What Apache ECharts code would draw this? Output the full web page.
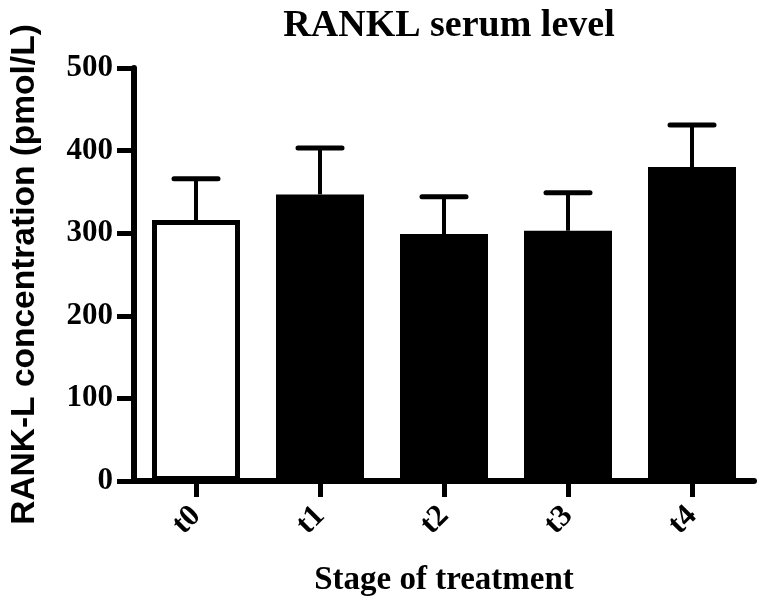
<!DOCTYPE html>
<html>
<head>
<meta charset="utf-8">
<script src="https://cdn.jsdelivr.net/npm/echarts@6/dist/echarts.min.js"></script>
<style>
html,body{margin:0;padding:0;background:#fff;}
#chart{width:760px;height:602px;}
</style>
</head>
<body>
<div id="chart"></div>
<script>
var categories = ['t0', 't1', 't2', 't3', 't4'];
var means = [316, 347, 299, 303, 380];
var errors = [50, 56, 45, 46, 51];
var barFills = ['#ffffff', '#000000', '#000000', '#000000', '#000000'];
var yMin = 0, yMax = 500, yInterval = 100;

var serif = '"Liberation Serif", "Times New Roman", serif';
var sans = '"Liberation Sans", Arial, sans-serif';

var chart = echarts.init(document.getElementById('chart'), null, {renderer: 'canvas'});

var barData = means.map(function (v, i) {
  return {value: v, itemStyle: {color: barFills[i]}};
});
var errData = means.map(function (v, i) { return [i, v, v + errors[i]]; });

chart.setOption({
  animation: false,
  backgroundColor: '#ffffff',
  title: {
    text: 'RANKL serum level',
    left: 444, textAlign: 'center',
    top: 2,
    textStyle: {fontFamily: serif, fontWeight: 'bold', fontSize: 38, color: '#000'}
  },
  grid: {left: 134, right: 6, top: 68, bottom: 120, containLabel: false},
  xAxis: {
    type: 'category',
    data: categories,
    name: 'Stage of treatment',
    nameLocation: 'middle',
    nameGap: 83,
    nameTextStyle: {fontFamily: serif, fontWeight: 'bold', fontSize: 33, color: '#000'},
    axisLine: {show: true, lineStyle: {color: '#000', width: 6}},
    axisTick: {show: true, alignWithLabel: true, length: 16, lineStyle: {color: '#000', width: 5}},
    axisLabel: {rotate: 45, margin: 30, fontFamily: serif, fontWeight: 'bold', fontSize: 31, color: '#000'},
    splitLine: {show: false}
  },
  yAxis: {
    type: 'value',
    min: yMin, max: yMax, interval: yInterval,
    name: 'RANK-L concentration (pmol/L)',
    nameLocation: 'middle',
    nameRotate: 90,
    nameGap: 92,
    nameTextStyle: {fontFamily: sans, fontWeight: 'bold', fontSize: 33.5, color: '#000'},
    axisLine: {show: true, lineStyle: {color: '#000', width: 6}},
    axisTick: {show: true, length: 17, lineStyle: {color: '#000', width: 5}},
    axisLabel: {margin: 21, fontFamily: serif, fontWeight: 'bold', fontSize: 31, color: '#000'},
    splitLine: {show: false}
  },
  series: [
    {
      type: 'bar',
      data: barData,
      barWidth: 88,
      itemStyle: {borderColor: '#000', borderWidth: 5},
      z: 2
    },
    {
      type: 'custom',
      data: errData,
      z: 3,
      renderItem: function (params, api) {
        var i = api.value(0);
        var base = api.coord([i, api.value(1)]);
        var top = api.coord([i, api.value(2)]);
        var half = 22;
        return {
          type: 'group',
          children: [
            {type: 'line', shape: {x1: base[0], y1: base[1], x2: top[0], y2: top[1]},
             style: {stroke: '#000', lineWidth: 4}},
            {type: 'line', shape: {x1: top[0] - half, y1: top[1], x2: top[0] + half, y2: top[1]},
             style: {stroke: '#000', lineWidth: 5, lineCap: 'round'}}
          ]
        };
      }
    }
  ]
});
</script>
</body>
</html>
